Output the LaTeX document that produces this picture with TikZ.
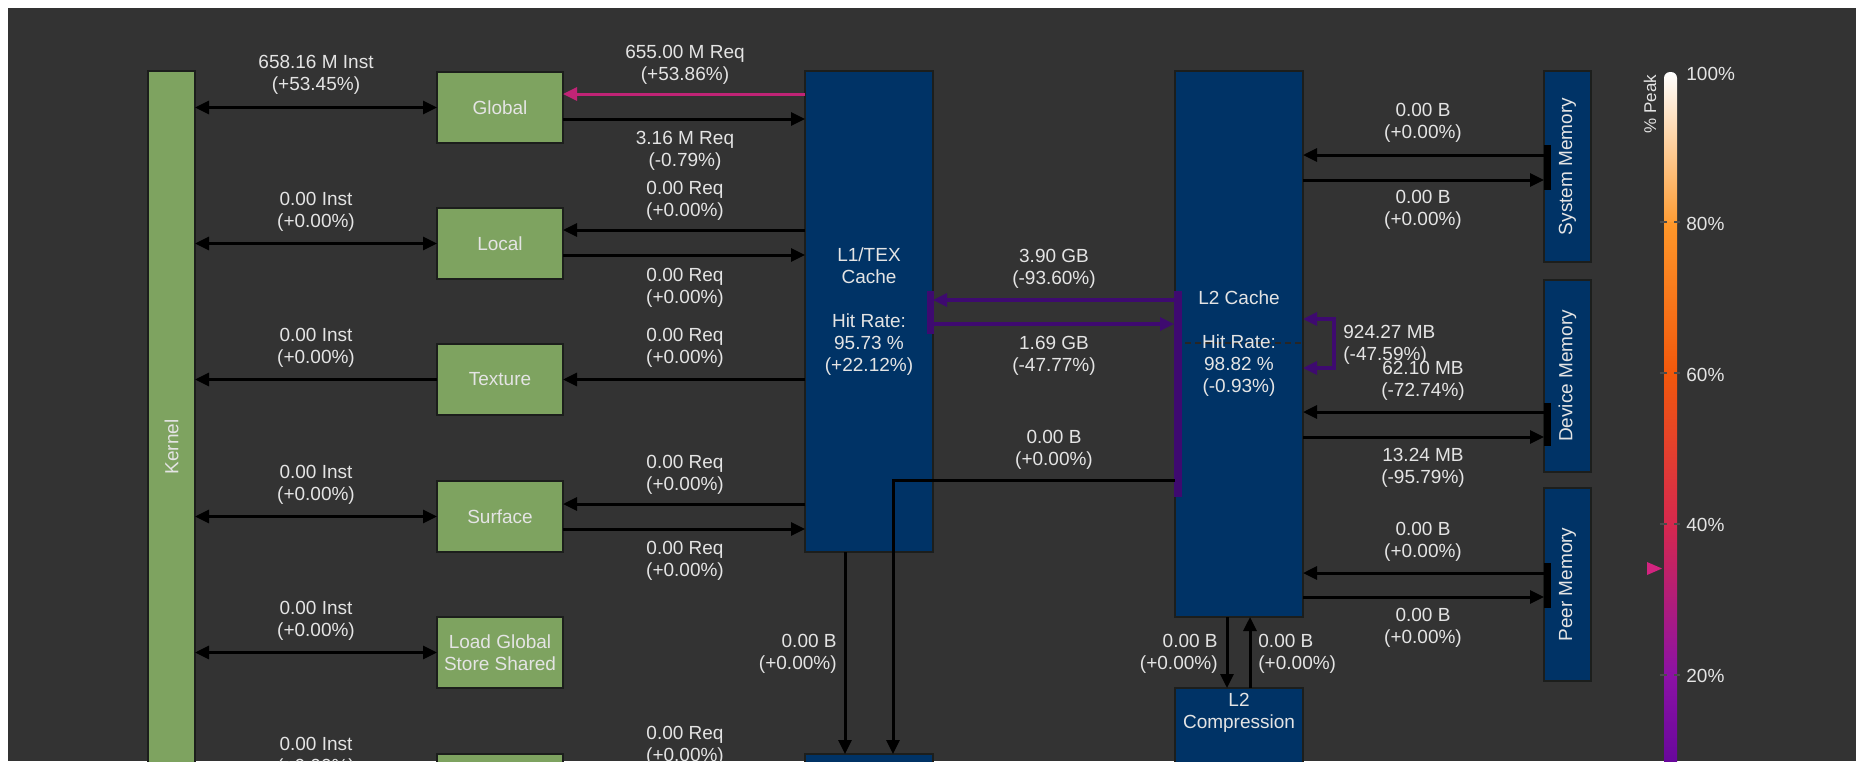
\documentclass[tikz,border=0pt]{standalone}
\usepackage{fontspec}
\setmainfont{Liberation Sans}
\usetikzlibrary{arrows.meta}
\definecolor{bgc}{RGB}{51,51,51}
\definecolor{grn}{RGB}{126,163,96}
\definecolor{blu}{RGB}{0,51,102}
\definecolor{txt}{RGB}{228,228,228}
\definecolor{mag}{RGB}{192,36,118}
\definecolor{pur}{RGB}{62,10,112}
\definecolor{edge}{RGB}{28,30,28}
\definecolor{cbA}{RGB}{255,152,42}
\definecolor{cbB}{RGB}{242,88,12}
\definecolor{cbC}{RGB}{214,40,78}
\definecolor{cbD}{RGB}{140,18,165}
\definecolor{cbE}{RGB}{78,0,150}
\definecolor{mkc}{RGB}{212,36,128}
\begin{document}
\begin{tikzpicture}[x=0.5pt,y=-0.5pt,
  lbl/.style={text=txt,font=\fontsize{9.5}{11}\selectfont,align=center,inner sep=0pt},
  gbox/.style={draw=edge,line width=1pt,fill=grn,anchor=north west,inner sep=0pt,outer sep=0pt,
    text=txt,font=\fontsize{9.5}{11}\selectfont,align=center},
  bbox/.style={gbox,fill=blu},
  tipE/.style={-{Triangle[length=7pt,width=6.5pt]}},
  tipB/.style={{Triangle[length=7pt,width=6.5pt]}-{Triangle[length=7pt,width=6.5pt]}},
  arr/.style={line width=1.5pt,draw=black,tipE},
  darr/.style={line width=1.5pt,draw=black,tipB},
  marr/.style={line width=1.5pt,draw=mag,tipE},
  parr/.style={line width=1.6pt,draw=pur,tipE},
  ploop/.style={line width=1.6pt,draw=pur,tipB},
  vlbl/.style={lbl,rotate=90}
]
\useasboundingbox (0,0) rectangle (1856,761);
\clip (0,0) rectangle (1856,761);
\fill[white] (0,0) rectangle (1856,761);
\fill[bgc] (8,8) rectangle (1856,761);

% ---- boxes
\node[gbox,minimum width=23.5pt,minimum height=376pt,label={[vlbl]center:Kernel}] (Kernel) at (148,71) {};
\node[gbox,minimum width=63pt,minimum height=35.5pt] (Global) at (437,72) {Global};
\node[gbox,minimum width=63pt,minimum height=35.5pt] (Local) at (437,208) {Local};
\node[gbox,minimum width=63pt,minimum height=35.5pt] (Texture) at (437,344) {Texture};
\node[gbox,minimum width=63pt,minimum height=35.5pt] (Surface) at (437,481) {Surface};
\node[gbox,minimum width=63pt,minimum height=35.5pt] (LGSS) at (437,617) {Load Global\\Store Shared};
\node[gbox,minimum width=63pt,minimum height=35.5pt] (Next) at (437,754) {};

\node[bbox,minimum width=64pt,minimum height=240.5pt] (L1) at (805,71) {L1/TEX\\Cache\\[11pt]Hit Rate:\\95.73 \%\\(+22.12\%)};
\node[bbox,minimum width=64pt,minimum height=40pt] (Bot) at (805,754) {};
\node[bbox,minimum width=64pt,minimum height=273pt] (L2) at (1175,71) {};
\draw[black!85,line width=0.6pt,dash pattern=on 3pt off 2pt] (L2.west |- 0,343) -- (L2.east |- 0,343);
\node[lbl] (L2t) at (L2.center) {L2 Cache\\[11pt]Hit Rate:\\98.82 \%\\(-0.93\%)};
\node[bbox,minimum width=64pt,minimum height=45pt] (L2C) at (1175,688) {};
\node[lbl] (L2Ct) at (1239,713) {L2\\Compression};

\node[bbox,minimum width=23.5pt,minimum height=95.5pt,label={[vlbl]center:System Memory}] (Sys) at (1544,71) {};
\node[bbox,minimum width=23.5pt,minimum height=96pt,label={[vlbl]center:Device Memory}] (Dev) at (1544,280) {};
\node[bbox,minimum width=23.5pt,minimum height=96.5pt,label={[vlbl]center:Peer Memory}] (Peer) at (1544,488) {};

% ---- bars on box edges
\fill[pur] (927,291) rectangle (934,334);
\fill[pur] (1174,291) rectangle (1182,497);
\fill[black] (1544,145) rectangle (1551,190);
\fill[black] (1544,403) rectangle (1551,446);
\fill[black] (1544,563) rectangle (1551,608);

% ---- kernel connectors
\draw[darr] (Kernel.east |- Global) -- (Global.west);
\draw[darr] (Kernel.east |- Local) -- (Local.west);
\draw[arr] (Texture.west) -- (Kernel.east |- Texture);
\draw[darr] (Kernel.east |- Surface) -- (Surface.west);
\draw[darr] (Kernel.east |- LGSS) -- (LGSS.west);
\draw[darr] (Kernel.east |- Next) -- (Next.west);

% ---- L1 connectors
\draw[marr] (L1.west |- 0,94) -- (Global.east |- 0,94);
\draw[arr] (Global.east |- 0,119) -- (L1.west |- 0,119);
\draw[arr] (L1.west |- 0,230) -- (Local.east |- 0,230);
\draw[arr] (Local.east |- 0,255) -- (L1.west |- 0,255);
\draw[arr] (L1.west |- Texture) -- (Texture.east);
\draw[arr] (L1.west |- 0,504) -- (Surface.east |- 0,504);
\draw[arr] (Surface.east |- 0,529) -- (L1.west |- 0,529);
\draw[arr] (L1.west |- 0,776) -- (Next.east |- 0,776);
\draw[arr] (Next.east |- 0,801) -- (L1.west |- 0,801);
\draw[arr] ([xshift=-12pt]L1.south) -- ([xshift=-12pt]Bot.north);
\draw[arr] (L2.west |- 0,480) -| ([xshift=12pt]Bot.north);

% ---- L1 <-> L2
\draw[parr] (1174,300) -- (L1.east |- 0,300);
\draw[parr] (L1.east |- 0,324) -- (1174,324);
\draw[ploop] (L2.east |- 0,319) -- ++(31,0) |- (L2.east |- 0,368);

% ---- L2 <-> memories
\draw[arr] (Sys.west |- 0,155) -- (L2.east |- 0,155);
\draw[arr] (L2.east |- 0,180) -- (Sys.west |- 0,180);
\draw[arr] (Dev.west |- 0,412) -- (L2.east |- 0,412);
\draw[arr] (L2.east |- 0,437) -- (Dev.west |- 0,437);
\draw[arr] (Peer.west |- 0,573) -- (L2.east |- 0,573);
\draw[arr] (L2.east |- 0,597) -- (Peer.west |- 0,597);
\draw[arr] ([xshift=-6pt]L2.south) -- ([xshift=-6pt]L2C.north);
\draw[arr] ([xshift=5.5pt]L2C.north) -- ([xshift=5.5pt]L2.south);

% ---- labels
\node[lbl] (k1) at (316,75) {658.16 M Inst\\(+53.45\%)};
\node[lbl] (k2) at (316,212) {0.00 Inst\\(+0.00\%)};
\node[lbl] (k3) at (316,347.5) {0.00 Inst\\(+0.00\%)};
\node[lbl] (k4) at (316,484.5) {0.00 Inst\\(+0.00\%)};
\node[lbl] (k5) at (316,620.5) {0.00 Inst\\(+0.00\%)};
\node[lbl] (k6) at (316,757) {0.00 Inst\\(+0.00\%)};

\node[lbl] (r1) at (685,64.5) {655.00 M Req\\(+53.86\%)};
\node[lbl] (r2) at (685,151) {3.16 M Req\\(-0.79\%)};
\node[lbl] (r3) at (685,201) {0.00 Req\\(+0.00\%)};
\node[lbl] (r4) at (685,287.5) {0.00 Req\\(+0.00\%)};
\node[lbl] (r5) at (685,348) {0.00 Req\\(+0.00\%)};
\node[lbl] (r6) at (685,474.5) {0.00 Req\\(+0.00\%)};
\node[lbl] (r7) at (685,560.5) {0.00 Req\\(+0.00\%)};
\node[lbl] (r8) at (685,745.5) {0.00 Req\\(+0.00\%)};

\node[lbl,anchor=east,align=right] (d1) at (837,653.5) {0.00 B\\(+0.00\%)};
\node[lbl] (m1) at (1054,268.5) {3.90 GB\\(-93.60\%)};
\node[lbl] (m2) at (1054,356) {1.69 GB\\(-47.77\%)};
\node[lbl] (m3) at (1054,449.5) {0.00 B\\(+0.00\%)};
\node[lbl,anchor=west,align=left] (lp) at (1343,344.5) {924.27 MB\\(-47.59\%)};

\node[lbl] (s1) at (1423,122.5) {0.00 B\\(+0.00\%)};
\node[lbl] (s2) at (1423,209.5) {0.00 B\\(+0.00\%)};
\node[lbl] (s3) at (1423,381) {62.10 MB\\(-72.74\%)};
\node[lbl] (s4) at (1423,467.5) {13.24 MB\\(-95.79\%)};
\node[lbl] (s5) at (1423,541.5) {0.00 B\\(+0.00\%)};
\node[lbl] (s6) at (1423,627.5) {0.00 B\\(+0.00\%)};

\node[lbl,anchor=east,align=right] (c1) at (1218,654) {0.00 B\\(+0.00\%)};
\node[lbl,anchor=west,align=left] (c2) at (1258,654) {0.00 B\\(+0.00\%)};

% ---- colour bar
\shade[top color=white,bottom color=cbA,rounded corners=3pt] (1664,72) rectangle (1677,230);
\shade[top color=cbA,bottom color=cbB] (1664,222) rectangle (1677,373);
\shade[top color=cbB,bottom color=cbC] (1664,373) rectangle (1677,524);
\shade[top color=cbC,bottom color=cbD] (1664,524) rectangle (1677,675);
\shade[top color=cbD,bottom color=cbE] (1664,675) rectangle (1677,826);
\foreach \yy in {222,373,524,675}{
  \draw[black!70,line width=0.8pt] (1660,\yy) -- (1667,\yy);
  \draw[black!70,line width=0.8pt] (1674,\yy) -- (1680,\yy);
}
\node[lbl,anchor=west] (p100) at (1686,74) {100\%};
\node[lbl,anchor=west] (p80) at (1686,224) {80\%};
\node[lbl,anchor=west] (p60) at (1686,375) {60\%};
\node[lbl,anchor=west] (p40) at (1686,525) {40\%};
\node[lbl,anchor=west] (p20) at (1686,676) {20\%};
\node[lbl,rotate=90,font=\fontsize{8.5}{10}\selectfont] (peak) at (1650,104) {\% Peak};
\fill[mkc] (1647,562) -- (1647,575) -- (1662,568.5) -- cycle;
\end{tikzpicture}
\end{document}
